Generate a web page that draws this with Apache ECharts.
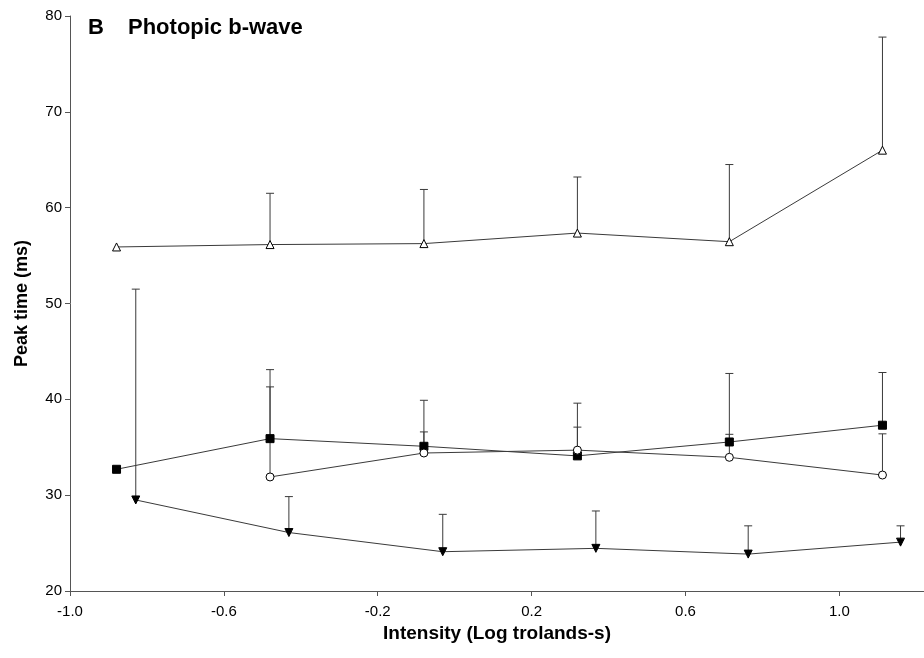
<!DOCTYPE html>
<html>
<head>
<meta charset="utf-8">
<script src="https://cdn.jsdelivr.net/npm/echarts@6/dist/echarts.min.js"></script>
<style>html,body{margin:0;padding:0;background:#fff}#c{width:924px;height:658px}</style>
</head>
<body>
<div id="c"></div>
<script>
// Intensity (log trolands-s) positions
const xMain = [-0.879, -0.480, -0.080, 0.319, 0.714, 1.112];
const xShift = [-0.829, -0.431, -0.031, 0.367, 0.763, 1.159];
const xCircle = [-0.480, -0.080, 0.319, 0.714, 1.112];

// Peak times (ms)
const squareY = [32.7, 35.9, 35.1, 34.1, 35.55, 37.3];
const squareTop = [null, 43.1, 39.9, 39.6, 42.7, 42.8];

const circleY = [31.9, 34.4, 34.7, 33.95, 32.1];
const circleTop = [41.3, 36.6, 37.1, 36.35, 36.4];

const triUpY = [55.9, 56.15, 56.25, 57.35, 56.45, 66.0];
const triUpTop = [null, 61.5, 61.9, 63.2, 64.5, 77.8];

const triDownY = [29.5, 26.1, 24.1, 24.45, 23.85, 25.1];
const triDownTop = [51.5, 29.85, 28.0, 28.35, 26.8, 26.8];

const yTicks = [20, 30, 40, 50, 60, 70, 80];
const xTicks = [-1.0, -0.6, -0.2, 0.2, 0.6, 1.0];

const LINE = '#3a3a3a';
const FONT = 'Liberation Sans, Arial, Helvetica, sans-serif';

function pts(xs, ys) { return xs.map((x, i) => [x, ys[i]]); }
function errs(xs, ys, tops) {
  const out = [];
  xs.forEach((x, i) => { if (tops[i] != null) out.push([x, ys[i], tops[i]]); });
  return out;
}
function errSeries(data) {
  return {
    type: 'custom',
    z: 1,
    silent: true,
    data: data,
    encode: { x: 0, y: [1, 2] },
    renderItem: function (params, api) {
      const p0 = api.coord([api.value(0), api.value(1)]);
      const p1 = api.coord([api.value(0), api.value(2)]);
      const hw = 4;
      const st = { stroke: LINE, lineWidth: 1 };
      return {
        type: 'group',
        children: [
          { type: 'line', shape: { x1: p0[0], y1: p0[1], x2: p1[0], y2: p1[1] }, style: st },
          { type: 'line', shape: { x1: p1[0] - hw, y1: p1[1], x2: p1[0] + hw, y2: p1[1] }, style: st }
        ]
      };
    }
  };
}
function lineSeries(data, symbol, filled, rotate, size) {
  return {
    type: 'line',
    z: 3,
    data: data,
    symbol: symbol,
    symbolSize: size || 8,
    symbolRotate: rotate || 0,
    showAllSymbol: true,
    lineStyle: { color: LINE, width: 1 },
    itemStyle: { color: filled ? '#000' : '#fff', borderColor: '#000', borderWidth: 1 },
    emphasis: { disabled: true }
  };
}

const chart = echarts.init(document.getElementById('c'), null, { renderer: 'canvas' });
chart.setOption({
  animation: false,
  backgroundColor: '#fff',
  title: {
    left: 83, top: 12,
    text: '{a|B}{b|Photopic b-wave}',
    textStyle: {
      rich: {
        a: { fontFamily: FONT, fontSize: 22, fontWeight: 'bold', color: '#000', width: 40 },
        b: { fontFamily: FONT, fontSize: 22, fontWeight: 'bold', color: '#000' }
      }
    }
  },
  grid: { left: 70, right: 0, top: 16, bottom: 67, containLabel: false },
  xAxis: {
    type: 'value', min: -1.0, max: 1.22, interval: 0.4,
    name: 'Intensity (Log trolands-s)', nameLocation: 'middle', nameGap: 33,
    nameTextStyle: { fontFamily: FONT, fontSize: 19, fontWeight: 'bold', color: '#000' },
    axisLine: { onZero: false, lineStyle: { color: '#555', width: 1 } },
    axisTick: { inside: false, length: 5, lineStyle: { color: '#555' } },
    axisLabel: {
      margin: 13, fontFamily: FONT, fontSize: 15, color: '#000', showMaxLabel: false,
      formatter: function (v) {
        const r = Math.round(v * 10) / 10;
        return xTicks.indexOf(r) >= 0 ? r.toFixed(1) : '';
      }
    },
    splitLine: { show: false }
  },
  yAxis: {
    type: 'value', min: 20, max: 80, interval: 10,
    name: 'Peak time (ms)', nameLocation: 'middle', nameGap: 39, nameRotate: 90,
    nameTextStyle: { fontFamily: FONT, fontSize: 18, fontWeight: 'bold', color: '#000' },
    axisLine: { show: true, onZero: false, lineStyle: { color: '#555', width: 1 } },
    axisTick: { show: true, inside: false, length: 5, lineStyle: { color: '#555' } },
    axisLabel: {
      margin: 8, fontFamily: FONT, fontSize: 15, color: '#000',
      formatter: function (v) { return yTicks.indexOf(v) >= 0 ? String(v) : ''; }
    },
    splitLine: { show: false }
  },
  series: [
    errSeries(errs(xMain, squareY, squareTop)),
    errSeries(errs(xCircle, circleY, circleTop)),
    errSeries(errs(xMain, triUpY, triUpTop)),
    errSeries(errs(xShift, triDownY, triDownTop)),
    lineSeries(pts(xMain, squareY), 'rect', true, 0, 8),
    lineSeries(pts(xCircle, circleY), 'circle', false, 0, 8),
    lineSeries(pts(xMain, triUpY), 'triangle', false, 0, 8),
    lineSeries(pts(xShift, triDownY), 'triangle', true, 180, 8)
  ]
});
</script>
</body>
</html>
